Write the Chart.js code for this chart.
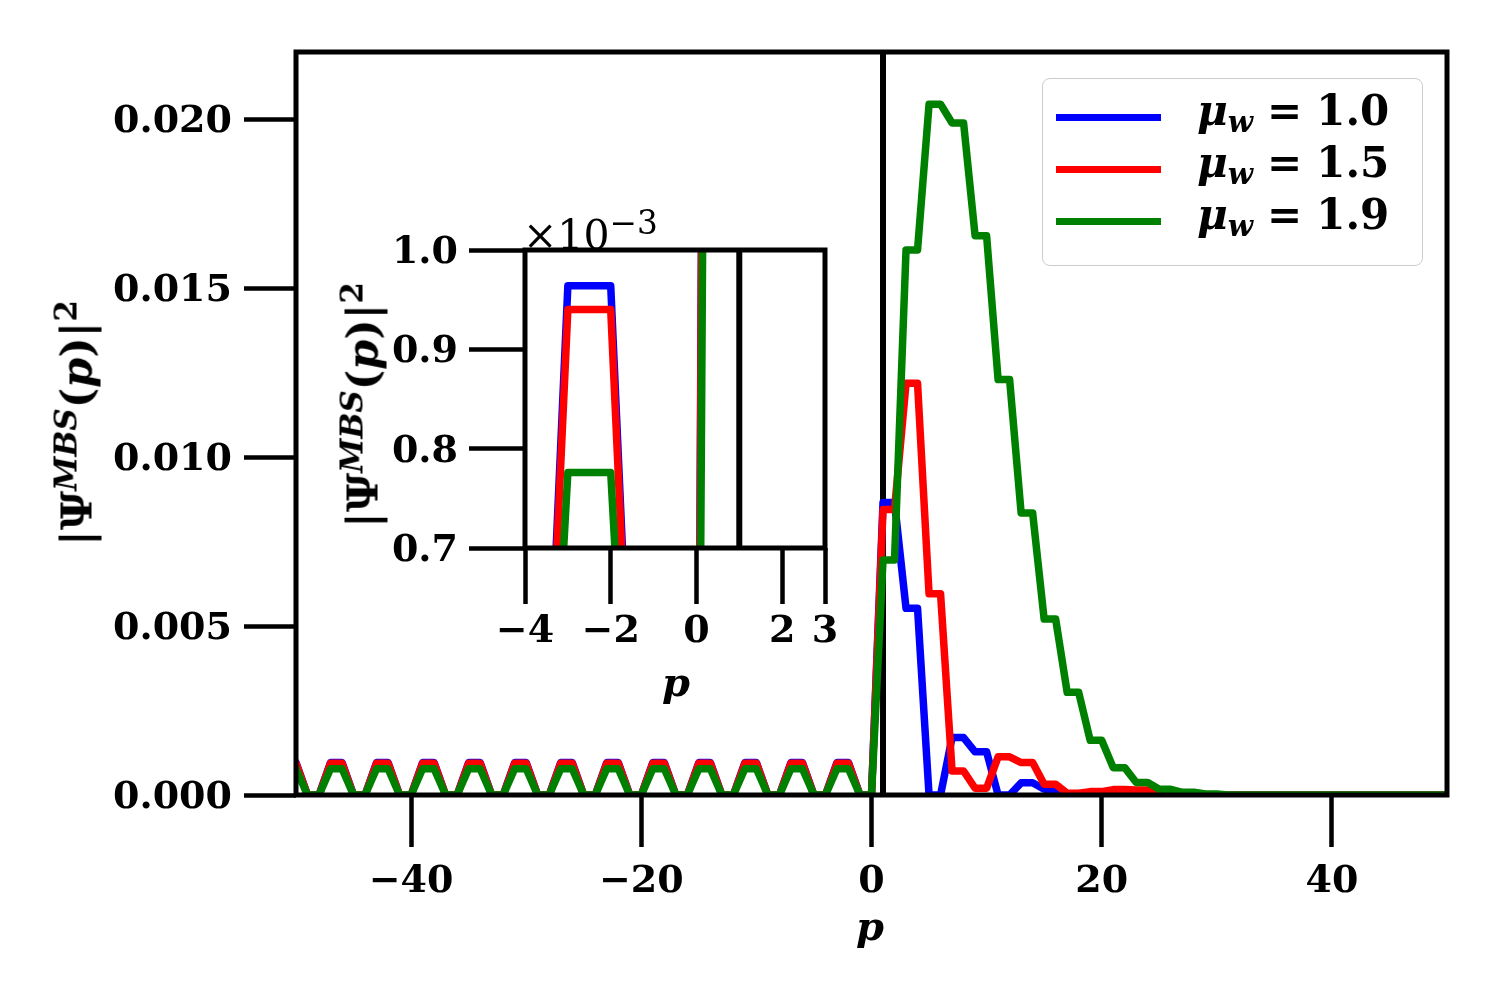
<!DOCTYPE html>
<html>
<head>
<meta charset="utf-8">
<script src="https://cdn.jsdelivr.net/npm/chart.js@4.4.1/dist/chart.umd.min.js"></script>
<style>
  html, body { margin: 0; padding: 0; background: #fff; }
  #wrap { position: relative; width: 1500px; height: 1000px; font-family: 'DejaVu Serif', serif; font-weight: bold; color: #000; }
  canvas { position: absolute; left: 0; top: 0; }
  #insetChart { left: 330px; top: 195px; }
  .lbl { position: absolute; white-space: nowrap; transform: translate(-50%, -50%); font-size: 40px; line-height: 1; }
  .ylab { font-size: 43px; }
  .rot { transform: translate(-50%, -50%) rotate(-90deg); }
  .lbl sup { font-size: 0.72em; vertical-align: 0.5em; line-height: 0; }
  #offset { position: absolute; left: 523px; top: 215px; font-size: 41px; font-weight: normal; line-height: 1; white-space: nowrap; }
  #offset sup { font-size: 0.8em; vertical-align: 0.45em; line-height: 0; }
  #legend { position: absolute; left: 1042px; top: 78px; width: 381px; height: 188px; box-sizing: border-box;
            border: 1.5px solid #cccccc; border-radius: 8px; background: rgba(255,255,255,0.85); padding-top: 12px; }
  #legend .row { display: flex; align-items: center; height: 52px; }
  #legend .swatch { display: block; width: 105px; height: 7px; margin-left: 13px; }
  #legend .txt { margin-left: 36px; font-size: 42px; line-height: 1; white-space: nowrap; position: relative; top: -6px; }
  #legend .eq { margin: 0 14px; }
  #legend sub { font-size: 0.7em; vertical-align: -0.25em; line-height: 0; }
</style>
</head>
<body>
<div id="wrap">
  <canvas id="mainChart" width="1500" height="1000"></canvas>
  <canvas id="insetChart" width="520" height="530"></canvas>
  <div class="lbl ylab rot" style="left:77px; top:423px;">|Ψ<sup><i>MBS</i></sup>(<i>p</i>)|<sup>2</sup></div>
  <div class="lbl" style="left:870px; top:926px;"><i>p</i></div>
  <div class="lbl ylab rot" style="left:363px; top:405px;">|Ψ<sup><i>MBS</i></sup>(<i>p</i>)|<sup>2</sup></div>
  <div class="lbl" style="left:676px; top:682px;"><i>p</i></div>
  <div id="offset">×10<sup>−3</sup></div>
  <div id="legend"></div>
</div>
<script>
// momentum grid
const pGrid = [
  -50, -49, -48, -47, -46, -45, -44, -43, -42, -41,
  -40, -39, -38, -37, -36, -35, -34, -33, -32, -31,
  -30, -29, -28, -27, -26, -25, -24, -23, -22, -21,
  -20, -19, -18, -17, -16, -15, -14, -13, -12, -11,
  -10, -9, -8, -7, -6, -5, -4, -3, -2, -1,
  0, 1, 2, 3, 4, 5, 6, 7, 8, 9,
  10, 11, 12, 13, 14, 15, 16, 17, 18, 19,
  20, 21, 22, 23, 24, 25, 26, 27, 28, 29,
  30, 31, 32, 33, 34, 35, 36, 37, 38, 39,
  40, 41, 42, 43, 44, 45, 46, 47, 48, 49,
  50
];

const muLabels = ['1.0', '1.5', '1.9'];
const seriesColors = ['#0000ff', '#ff0000', '#008000'];

// |Psi(p)|^2 for mu_w = 1.0
const psiMu10 = [
  0.000964, 0, 0,
  0.000964, 0.000964, 0, 0,  0.000964, 0.000964, 0, 0,  0.000964, 0.000964, 0, 0,
  0.000964, 0.000964, 0, 0,  0.000964, 0.000964, 0, 0,  0.000964, 0.000964, 0, 0,
  0.000964, 0.000964, 0, 0,  0.000964, 0.000964, 0, 0,  0.000964, 0.000964, 0, 0,
  0.000964, 0.000964, 0, 0,  0.000964, 0.000964, 0, 0,  0.000964, 0.000964, 0, 0,
  0.00866, 0.00866, 0.00553, 0.00553, 0, 0, 0.00170, 0.00170, 0.00128, 0.00128,
  0, 0, 0.00036, 0.00036, 0.00017, 0.00017, 0.00002, 0.00002, 0, 0,
  0, 0, 0, 0, 0, 0, 0, 0, 0, 0,
  0, 0, 0, 0, 0, 0, 0, 0, 0, 0,
  0, 0, 0, 0, 0, 0, 0, 0, 0, 0
];

// |Psi(p)|^2 for mu_w = 1.5
const psiMu15 = [
  0.000940, 0, 0,
  0.000940, 0.000940, 0, 0,  0.000940, 0.000940, 0, 0,  0.000940, 0.000940, 0, 0,
  0.000940, 0.000940, 0, 0,  0.000940, 0.000940, 0, 0,  0.000940, 0.000940, 0, 0,
  0.000940, 0.000940, 0, 0,  0.000940, 0.000940, 0, 0,  0.000940, 0.000940, 0, 0,
  0.000940, 0.000940, 0, 0,  0.000940, 0.000940, 0, 0,  0.000940, 0.000940, 0, 0,
  0.00845, 0.00845, 0.01219, 0.01219, 0.00596, 0.00596, 0.00071, 0.00071, 0.00020, 0.00020,
  0.00113, 0.00113, 0.00096, 0.00096, 0.00032, 0.00032, 0.00005, 0.00005, 0.00010, 0.00010,
  0.00016, 0.00016, 0.00015, 0.00015, 0.00002, 0.00002, 0, 0, 0, 0,
  0, 0, 0, 0, 0, 0, 0, 0, 0, 0,
  0, 0, 0, 0, 0, 0, 0, 0, 0, 0
];

// |Psi(p)|^2 for mu_w = 1.9
const psiMu19 = [
  0.000776, 0, 0,
  0.000776, 0.000776, 0, 0,  0.000776, 0.000776, 0, 0,  0.000776, 0.000776, 0, 0,
  0.000776, 0.000776, 0, 0,  0.000776, 0.000776, 0, 0,  0.000776, 0.000776, 0, 0,
  0.000776, 0.000776, 0, 0,  0.000776, 0.000776, 0, 0,  0.000776, 0.000776, 0, 0,
  0.000776, 0.000776, 0, 0,  0.000776, 0.000776, 0, 0,  0.000776, 0.000776, 0, 0,
  0.00696, 0.00696, 0.01614, 0.01614, 0.02045, 0.02045, 0.01990, 0.01990, 0.01656, 0.01656,
  0.01230, 0.01230, 0.00835, 0.00835, 0.00521, 0.00521, 0.00304, 0.00304, 0.00162, 0.00162,
  0.00081, 0.00081, 0.00037, 0.00037, 0.00017, 0.00017, 0.00008, 0.00008, 0.00003, 0.00003,
  0, 0, 0, 0, 0, 0, 0, 0, 0, 0,
  0, 0, 0, 0, 0, 0, 0, 0, 0, 0
];

const mainXTicks = [-40, -20, 0, 20, 40];
const mainYTicks = [0, 0.005, 0.010, 0.015, 0.020];
const insetXTicks = [-4, -2, 0, 2, 3];
const insetYTicks = [0.0007, 0.0008, 0.0009, 0.0010];
const markerP = 1;   // vertical marker

const allSeries = [psiMu10, psiMu15, psiMu19];

function makeDatasets() {
  return allSeries.map((vals, i) => ({
    label: 'μw = ' + muLabels[i],
    data: pGrid.map((p, j) => ({ x: p, y: vals[j] })),
    borderColor: seriesColors[i],
    backgroundColor: seriesColors[i],
    borderWidth: 7.5,
    pointRadius: 0,
    fill: false,
    tension: 0,
    borderJoinStyle: 'round',
    borderCapStyle: 'round',
    order: allSeries.length - 1 - i   // later series drawn on top, as in matplotlib
  }));
}

const tickFont = { family: "'DejaVu Serif', serif", size: 38, weight: 'bold' };
const minusFmt = v => (v < 0 ? '\u2212' + Math.abs(v) : String(v));

const framePlugin = {
  id: 'frame',
  beforeDatasetsDraw(chart) {
    const { ctx, chartArea: a, scales: { x } } = chart;
    const px = x.getPixelForValue(markerP);
    ctx.save();
    ctx.beginPath();
    ctx.rect(a.left, a.top, a.right - a.left, a.bottom - a.top);
    ctx.clip();
    ctx.strokeStyle = '#000';
    ctx.lineWidth = 6;
    ctx.beginPath();
    ctx.moveTo(px, a.top);
    ctx.lineTo(px, a.bottom);
    ctx.stroke();
    ctx.restore();
  },
  afterDatasetsDraw(chart) {
    const { ctx, chartArea: a } = chart;
    ctx.save();
    ctx.strokeStyle = '#000';
    ctx.lineWidth = 5;
    ctx.strokeRect(a.left, a.top, a.right - a.left, a.bottom - a.top);
    ctx.restore();
  }
};

function axisGrid(len) {
  return { drawOnChartArea: false, drawTicks: true, tickLength: len, tickWidth: 4.5, tickColor: '#000' };
}

const mainChart = new Chart(document.getElementById('mainChart'), {
  type: 'line',
  data: { datasets: makeDatasets() },
  options: {
    responsive: false,
    animation: false,
    devicePixelRatio: 1,
    layout: { padding: { top: 52, right: 53, left: 0, bottom: 0 } },
    plugins: { legend: { display: false }, tooltip: { enabled: false } },
    scales: {
      x: {
        type: 'linear', min: -50, max: 50,
        afterBuildTicks: s => { s.ticks = mainXTicks.map(v => ({ value: v })); },
        afterFit: s => { s.height = 205; },
        grid: axisGrid(52),
        border: { display: false },
        ticks: { font: tickFont, color: '#000', padding: 12, maxRotation: 0, autoSkip: false, callback: minusFmt }
      },
      y: {
        type: 'linear', min: 0, max: 0.022,
        afterBuildTicks: s => { s.ticks = mainYTicks.map(v => ({ value: v })); },
        afterFit: s => { s.width = 296; },
        grid: axisGrid(52),
        border: { display: false },
        ticks: { font: tickFont, color: '#000', padding: 12, labelOffset: 3, autoSkip: false, callback: v => v.toFixed(3) }
      }
    }
  },
  plugins: [framePlugin]
});

const insetChart = new Chart(document.getElementById('insetChart'), {
  type: 'line',
  data: { datasets: makeDatasets() },
  options: {
    responsive: false,
    animation: false,
    devicePixelRatio: 1,
    layout: { padding: { top: 55, right: 25, left: 0, bottom: 0 } },
    plugins: { legend: { display: false }, tooltip: { enabled: false } },
    scales: {
      x: {
        type: 'linear', min: -4, max: 3,
        afterBuildTicks: s => { s.ticks = insetXTicks.map(v => ({ value: v })); },
        afterFit: s => { s.height = 177; },
        grid: axisGrid(56),
        border: { display: false },
        ticks: { font: tickFont, color: '#000', padding: 5, maxRotation: 0, autoSkip: false, callback: minusFmt }
      },
      y: {
        type: 'linear', min: 0.0007, max: 0.001,
        afterBuildTicks: s => { s.ticks = insetYTicks.map(v => ({ value: v })); },
        afterFit: s => { s.width = 195; },
        grid: axisGrid(56),
        border: { display: false },
        ticks: { font: tickFont, color: '#000', padding: 11, labelOffset: 3, autoSkip: false, callback: v => (v * 1000).toFixed(1) }
      }
    }
  },
  plugins: [framePlugin]
});

// legend built from the main chart's datasets
const legendEl = document.getElementById('legend');
mainChart.data.datasets.forEach((ds, i) => {
  const row = document.createElement('div');
  row.className = 'row';
  row.innerHTML = '<span class="swatch" style="background:' + ds.borderColor + '"></span>' +
    '<span class="txt"><i>μ</i><sub><i>w</i></sub><span class="eq">=</span>' + muLabels[i] + '</span>';
  legendEl.appendChild(row);
});
</script>
</body>
</html>
